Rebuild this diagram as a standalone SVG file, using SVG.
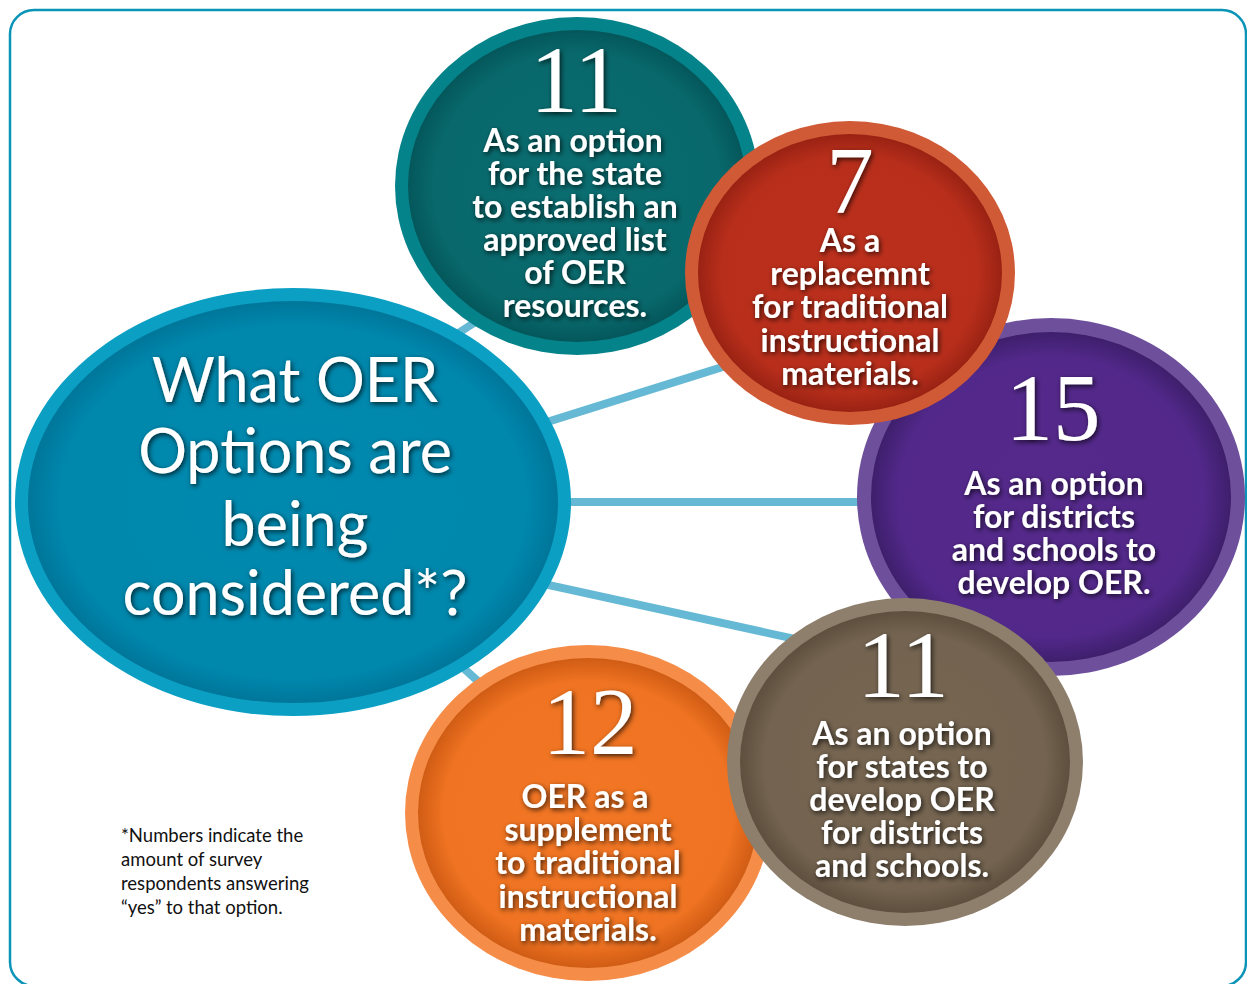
<svg xmlns="http://www.w3.org/2000/svg" width="1247" height="984" viewBox="0 0 1247 984">
<defs>
<filter id="ts" x="-20%" y="-40%" width="140%" height="180%">
<feDropShadow dx="1.5" dy="2" stdDeviation="2.5" flood-color="#000" flood-opacity="0.75"/>
</filter>
<radialGradient id="gC"><stop offset="0" stop-color="#0089af"/><stop offset="0.88" stop-color="#0087ac"/><stop offset="1" stop-color="#00769a"/></radialGradient>
<radialGradient id="gT"><stop offset="0" stop-color="#0a6d70"/><stop offset="0.85" stop-color="#08686b"/><stop offset="1" stop-color="#04575b"/></radialGradient>
<radialGradient id="gR"><stop offset="0" stop-color="#bc301c"/><stop offset="0.85" stop-color="#b72e1b"/><stop offset="1" stop-color="#9a2213"/></radialGradient>
<radialGradient id="gP"><stop offset="0" stop-color="#55298b"/><stop offset="0.85" stop-color="#52288a"/><stop offset="1" stop-color="#3e1f6c"/></radialGradient>
<radialGradient id="gB"><stop offset="0" stop-color="#766651"/><stop offset="0.85" stop-color="#736350"/><stop offset="1" stop-color="#5e4f3e"/></radialGradient>
<radialGradient id="gO"><stop offset="0" stop-color="#f27624"/><stop offset="0.85" stop-color="#ef7322"/><stop offset="1" stop-color="#d05c14"/></radialGradient>
</defs>
<style>
.num{font-family:"Liberation Serif","DejaVu Serif",serif;font-size:95px;fill:#fff;text-anchor:middle;filter:url(#ts)}
.lbl{font-family:Lato,"Open Sans",sans-serif;font-weight:bold;font-size:32px;fill:#fff;text-anchor:middle;filter:url(#ts)}
.main{font-family:Lato,"Open Sans",sans-serif;font-size:61px;fill:#fff;text-anchor:middle;filter:url(#ts)}
.note{font-family:Lato,"Open Sans",sans-serif;font-size:18.5px;fill:#111}
.conn line{stroke:#66b9d4;stroke-width:8}
</style>
<rect x="10" y="10" width="1236" height="976" rx="24" fill="#fff" stroke="#0a94b8" stroke-width="2.5"/>
<g id="connectors" class="conn">
<line x1="400" y1="371" x2="520" y2="293"/>
<line x1="480" y1="443" x2="780" y2="349"/>
<line x1="500" y1="502" x2="900" y2="502"/>
<line x1="480" y1="570" x2="850" y2="651"/>
<line x1="420" y1="629" x2="540" y2="737"/>
</g>
<g id="center">
<ellipse cx="293" cy="502" rx="278" ry="214" fill="#0a9fc3"/>
<ellipse cx="293" cy="502" rx="265" ry="201" fill="url(#gC)"/>
<text class="main" x="295" y="402">What OER</text>
<text class="main" x="295" y="473">Options are</text>
<text class="main" x="295" y="546">being</text>
<text class="main" x="295" y="615">considered*?</text>
</g>
<g id="teal">
<ellipse cx="577" cy="186" rx="182" ry="169" fill="#05838b"/>
<ellipse cx="577" cy="186" rx="169" ry="156" fill="url(#gT)"/>
<text class="num" x="576" y="112">11</text>
<text class="lbl" x="573" y="152">As an option</text>
<text class="lbl" x="575" y="185">for the state</text>
<text class="lbl" x="575" y="218">to establish an</text>
<text class="lbl" x="575" y="251">approved list</text>
<text class="lbl" x="575" y="284">of OER</text>
<text class="lbl" x="575" y="317">resources.</text>
</g>
<g id="orange">
<ellipse cx="588" cy="813" rx="183" ry="168" fill="#f58c48"/>
<ellipse cx="588" cy="813" rx="170" ry="155" fill="url(#gO)"/>
<text class="num" x="590" y="754">12</text>
<text class="lbl" x="585" y="808">OER as a</text>
<text class="lbl" x="588" y="841">supplement</text>
<text class="lbl" x="588" y="874">to traditional</text>
<text class="lbl" x="588" y="908">instructional</text>
<text class="lbl" x="588" y="941">materials.</text>
</g>
<g id="purple">
<ellipse cx="1051" cy="497" rx="194" ry="179" fill="#6e4f9c"/>
<ellipse cx="1051" cy="497" rx="180" ry="165" fill="url(#gP)"/>
<text class="num" x="1053" y="440">15</text>
<text class="lbl" x="1054" y="495">As an option</text>
<text class="lbl" x="1054" y="528">for districts</text>
<text class="lbl" x="1054" y="561">and schools to</text>
<text class="lbl" x="1054" y="594">develop OER.</text>
</g>
<g id="red">
<ellipse cx="850" cy="273" rx="165" ry="152" fill="#d05a35"/>
<ellipse cx="850" cy="273" rx="152" ry="139" fill="url(#gR)"/>
<text class="num" x="850" y="213">7</text>
<text class="lbl" x="850" y="252">As a</text>
<text class="lbl" x="850" y="285">replacemnt</text>
<text class="lbl" x="850" y="318">for traditional</text>
<text class="lbl" x="850" y="352">instructional</text>
<text class="lbl" x="850" y="385">materials.</text>
</g>
<g id="brown">
<ellipse cx="905" cy="762" rx="178" ry="164" fill="#8e7f6d"/>
<ellipse cx="905" cy="762" rx="165" ry="151" fill="url(#gB)"/>
<text class="num" x="903" y="697">11</text>
<text class="lbl" x="902" y="745">As an option</text>
<text class="lbl" x="902" y="778">for states to</text>
<text class="lbl" x="902" y="811">develop OER</text>
<text class="lbl" x="902" y="844">for districts</text>
<text class="lbl" x="902" y="877">and schools.</text>
</g>
<g id="footnote">
<text class="note" x="121" y="842">*Numbers indicate the</text>
<text class="note" x="121" y="866">amount of survey</text>
<text class="note" x="121" y="890">respondents answering</text>
<text class="note" x="121" y="914">“yes” to that option.</text>
</g>
</svg>
